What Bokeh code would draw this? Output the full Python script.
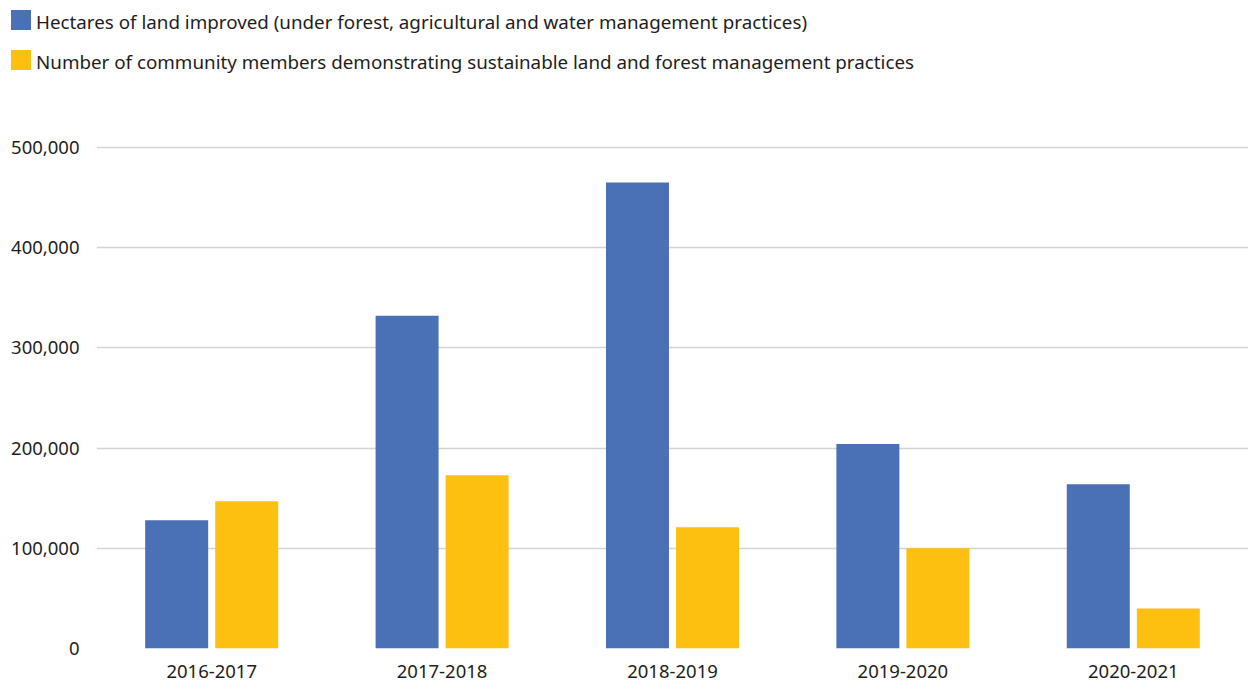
from bokeh.plotting import figure
from bokeh.models import ColumnDataSource, FactorRange, FixedTicker, NumeralTickFormatter, Range1d, Div
from bokeh.layouts import column
from bokeh.transform import dodge
from bokeh.embed import file_html
from bokeh.resources import INLINE

years = ["2016-2017", "2017-2018", "2018-2019", "2019-2020", "2020-2021"]
hectares = [128000, 332000, 465000, 204000, 164000]
members = [147000, 173000, 121000, 100000, 40000]
y_ticks = [0, 100000, 200000, 300000, 400000, 500000]
series_labels = [
    "Hectares of land improved (under forest, agricultural and water management practices)",
    "Number of community members demonstrating sustainable land and forest management practices",
]
colors = ["#4A70B6", "#FDC010"]
FONT = "Noto Sans"
TEXT = "#1e1e1e"

LEGEND_H = 84
FIG_H = 688 - LEGEND_H

src = ColumnDataSource(dict(year=years, hectares=hectares, members=members))

p = figure(
    x_range=FactorRange(*years, range_padding=0),
    y_range=Range1d(0, 562874),
    width=1248, height=FIG_H,
    output_backend="svg", toolbar_location=None,
    min_border_left=96, min_border_right=0, min_border_top=0, min_border_bottom=40,
)
p.outline_line_color = None
p.background_fill_color = "white"

r1 = p.vbar(x=dodge("year", -0.152, range=p.x_range), top="hectares", width=0.2734,
            source=src, color=colors[0], line_color=None)
r2 = p.vbar(x=dodge("year", 0.152, range=p.x_range), top="members", width=0.2734,
            source=src, color=colors[1], line_color=None)

p.yaxis.ticker = FixedTicker(ticks=y_ticks)
p.yaxis.formatter = NumeralTickFormatter(format="0,0")
p.yaxis.axis_line_color = None
p.yaxis.major_tick_line_color = None
p.yaxis.minor_tick_line_color = None
p.yaxis.major_tick_out = 0
p.yaxis.major_label_standoff = 17
p.yaxis.major_label_text_font = FONT
p.yaxis.major_label_text_font_size = "18.5px"
p.yaxis.major_label_text_color = TEXT

p.xaxis.axis_line_color = None
p.xaxis.major_tick_line_color = None
p.xaxis.minor_tick_line_color = None
p.xaxis.major_tick_out = 0
p.xaxis.major_label_standoff = 16
p.xaxis.major_label_text_font = FONT
p.xaxis.major_label_text_font_size = "18.5px"
p.xaxis.major_label_text_color = TEXT

p.xgrid.grid_line_color = None
p.ygrid.grid_line_color = "#d4d4d4"
p.ygrid.grid_line_width = 1.5

rows = []
for i, (lab, col) in enumerate(zip(series_labels, colors)):
    top = 10 + 40 * i
    rows.append(
        f'<div style="position:absolute;left:11px;top:{top}px;width:20px;height:20px;background:{col}"></div>'
        f'<div style="position:absolute;left:36px;top:{top - 1}px;line-height:26px;white-space:nowrap">{lab}</div>'
    )
legend_html = (
    f'<div style="position:relative;width:1248px;height:{LEGEND_H}px;'
    f"font-family:'{FONT}';font-size:18.8px;color:{TEXT}\">" + "".join(rows) + "</div>"
)
legend_div = Div(text=legend_html, width=1248, height=LEGEND_H, margin=0)

layout = column(legend_div, p, spacing=0, margin=0)

open("out.html", "w").write(file_html(layout, INLINE))
